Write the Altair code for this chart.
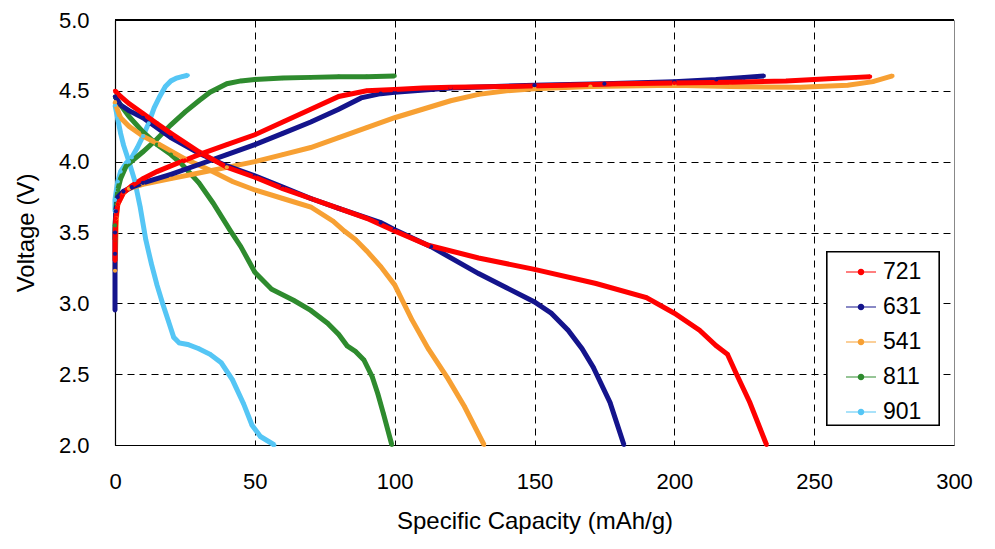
import altair as alt
import pandas as pd

# ---- data ----
series_names = ["721", "631", "541", "811", "901"]
series_colors = ["#FF0000", "#14148C", "#F7A033", "#2E8B2E", "#55C6F5"]

red_charge_x = [0, 0, 0.3, 1, 3, 6, 10, 15, 20, 25, 30, 40, 50, 60, 70, 80, 90, 100, 110, 120, 140, 160, 180, 200, 220, 240, 255, 265, 270]
red_charge_v = [3.30, 3.45, 3.60, 3.70, 3.78, 3.83, 3.88, 3.93, 3.97, 4.01, 4.05, 4.12, 4.19, 4.28, 4.37, 4.46, 4.50, 4.51, 4.52, 4.525, 4.53, 4.54, 4.55, 4.555, 4.56, 4.57, 4.585, 4.595, 4.60]
red_dis_x = [0, 2, 5, 10, 15, 20, 30, 40, 50, 60, 70, 80, 90, 100, 112, 130, 150, 172, 190, 200, 209, 215, 219, 222, 227, 233]
red_dis_v = [4.50, 4.46, 4.41, 4.34, 4.27, 4.20, 4.07, 3.96, 3.89, 3.81, 3.74, 3.67, 3.60, 3.51, 3.41, 3.32, 3.24, 3.14, 3.04, 2.93, 2.81, 2.70, 2.64, 2.51, 2.30, 2.00]

navy_charge_x = [0, 0, 0, 0.3, 1, 3, 6, 10, 20, 30, 40, 50, 60, 70, 80, 88, 95, 100, 120, 150, 175, 200, 215, 225, 232]
navy_charge_v = [2.95, 3.35, 3.50, 3.65, 3.75, 3.79, 3.82, 3.85, 3.91, 3.98, 4.05, 4.12, 4.20, 4.28, 4.37, 4.45, 4.48, 4.49, 4.52, 4.54, 4.55, 4.565, 4.58, 4.595, 4.605]
navy_dis_x = [0, 2, 5, 10, 20, 30, 40, 50, 60, 70, 80, 95, 100, 113, 130, 140, 150, 156, 162, 167, 171, 177, 182]
navy_dis_v = [4.46, 4.40, 4.36, 4.31, 4.17, 4.06, 3.97, 3.90, 3.82, 3.74, 3.67, 3.57, 3.52, 3.40, 3.21, 3.11, 3.01, 2.93, 2.81, 2.68, 2.55, 2.30, 2.00]

orange_charge_x = [0, 0.5, 1, 3, 5, 10, 20, 30, 40, 50, 60, 70, 80, 90, 100, 110, 120, 130, 140, 150, 170, 200, 220, 245, 262, 271, 278]
orange_charge_v = [3.23, 3.60, 3.70, 3.78, 3.81, 3.84, 3.88, 3.92, 3.96, 4.00, 4.05, 4.10, 4.17, 4.24, 4.31, 4.37, 4.43, 4.475, 4.50, 4.515, 4.53, 4.54, 4.53, 4.525, 4.54, 4.565, 4.605]
orange_dis_x = [0, 1, 2, 5, 10, 16, 25, 34, 42, 50, 60, 70, 78, 82, 86, 90, 95, 100, 106, 112, 119, 125, 132]
orange_dis_v = [4.42, 4.36, 4.31, 4.25, 4.18, 4.12, 4.02, 3.94, 3.86, 3.80, 3.74, 3.68, 3.58, 3.51, 3.45, 3.37, 3.26, 3.13, 2.89, 2.68, 2.47, 2.27, 2.00]

green_charge_x = [0, 0, 0.5, 1, 2, 4, 10, 15, 20, 25, 30, 34, 40, 45, 50, 60, 70, 80, 90, 100]
green_charge_v = [3.45, 3.55, 3.70, 3.80, 3.88, 3.97, 4.07, 4.16, 4.26, 4.35, 4.43, 4.49, 4.55, 4.57, 4.58, 4.59, 4.595, 4.60, 4.60, 4.605]
green_dis_x = [0, 2, 5, 10, 15, 20, 24, 30, 35, 41, 45, 50, 56, 64, 70, 76, 80, 83, 86, 89, 92, 94, 96, 99]
green_dis_v = [4.46, 4.40, 4.32, 4.21, 4.12, 4.05, 3.98, 3.85, 3.71, 3.52, 3.40, 3.22, 3.10, 3.02, 2.95, 2.86, 2.78, 2.70, 2.66, 2.60, 2.48, 2.36, 2.22, 2.00]

cyan_charge_x = [0, 0, 0.5, 1, 2, 4, 6, 8, 10, 12, 14, 16, 18, 20, 22, 24, 26]
cyan_charge_v = [3.65, 3.73, 3.80, 3.86, 3.93, 3.99, 4.03, 4.10, 4.18, 4.27, 4.38, 4.46, 4.53, 4.57, 4.59, 4.60, 4.61]
cyan_dis_x = [0, 1, 2, 3, 5, 7, 9, 11, 13, 15, 17, 19, 21, 23, 26, 30, 34, 38, 42, 46, 49, 52, 57]
cyan_dis_v = [4.40, 4.30, 4.20, 4.12, 4.00, 3.87, 3.68, 3.45, 3.28, 3.13, 3.00, 2.88, 2.76, 2.72, 2.71, 2.68, 2.64, 2.58, 2.46, 2.29, 2.14, 2.06, 2.00]

x_ticks = [0, 50, 100, 150, 200, 250, 300]
y_ticks = [2.0, 2.5, 3.0, 3.5, 4.0, 4.5, 5.0]

curves = [
    ("901", "charge", cyan_charge_x, cyan_charge_v), ("901", "dis", cyan_dis_x, cyan_dis_v),
    ("811", "charge", green_charge_x, green_charge_v), ("811", "dis", green_dis_x, green_dis_v),
    ("541", "charge", orange_charge_x, orange_charge_v), ("541", "dis", orange_dis_x, orange_dis_v),
    ("631", "charge", navy_charge_x, navy_charge_v), ("631", "dis", navy_dis_x, navy_dis_v),
    ("721", "charge", red_charge_x, red_charge_v), ("721", "dis", red_dis_x, red_dis_v),
]
rows = []
for s, seg, xs, vs in curves:
    for i, (x, v) in enumerate(zip(xs, vs)):
        rows.append({"series": s, "key": s + "_" + seg, "i": i, "x": x, "v": v})
df = pd.DataFrame(rows)

FONT = "Liberation Sans"
W, H = 839, 425
LX, LY, LW, LH = 712, 232, 112, 173  # legend frame (pixels inside the plot)

legend_path = "M-1,0H1M-0.18,0A0.18,0.18,0,1,1,0.18,0A0.18,0.18,0,1,1,-0.18,0Z"
axis_common = dict(
    grid=True, gridColor="black", gridDash=[7, 5], gridWidth=1,
    ticks=False, domainColor="black", domainWidth=1.2, labelFlush=False,
    labelFont=FONT, titleFont=FONT, labelFontSize=22, titleFontSize=24,
    labelColor="black", titleColor="black", titleFontWeight="normal",
)

lines = alt.Chart(df).mark_line(
    strokeWidth=5,
    point=alt.OverlayMarkDef(filled=True, size=18),
).encode(
    x=alt.X("x:Q", scale=alt.Scale(domain=[0, 300], nice=False),
            axis=alt.Axis(values=x_ticks, title="Specific Capacity (mAh/g)", format="d",
                          gridOpacity={"condition": {"test": "datum.value >= 300", "value": 0}, "value": 1},
                          labelPadding=26, titlePadding=17, **axis_common)),
    y=alt.Y("v:Q", scale=alt.Scale(domain=[2.0, 5.0], nice=False, zero=False),
            axis=alt.Axis(values=y_ticks, title="Voltage (V)", format=".1f",
                          gridOpacity={"condition": {"test": "datum.value >= 5", "value": 0}, "value": 1},
                          labelPadding=26, titlePadding=20, **axis_common)),
    color=alt.Color("series:N", scale=alt.Scale(domain=series_names, range=series_colors),
                    legend=alt.Legend(title=None, orient="none", legendX=LX, legendY=LY,
                                      padding=4,
                                      symbolType=legend_path, symbolSize=900, symbolStrokeWidth=1.2,
                                      symbolOffset=14, labelOffset=6, rowPadding=7,
                                      labelFontSize=23, labelFont=FONT, labelColor="black")),
    detail="key:N",
    order="i:Q",
)

legend_box = alt.Chart(df).mark_rect(fill="white", stroke="black", strokeWidth=1.2).encode(
    x=alt.value(LX), x2=alt.value(LX + LW), y=alt.value(LY), y2=alt.value(LY + LH)
)

top_border = alt.Chart(df).mark_rule(color="black", strokeWidth=1).encode(
    y=alt.value(0), x=alt.value(0), x2=alt.value(W)
)

chart = alt.layer(lines, legend_box, top_border).properties(
    width=W, height=H,
    background="white",
    autosize=alt.AutoSizeParams(type="none"),
    padding={"left": 107, "top": 12, "right": 30, "bottom": 90},
).configure_view(
    stroke="#888888", strokeWidth=1
)

chart.save("out.html", embed_options={"renderer": "svg", "actions": False})
